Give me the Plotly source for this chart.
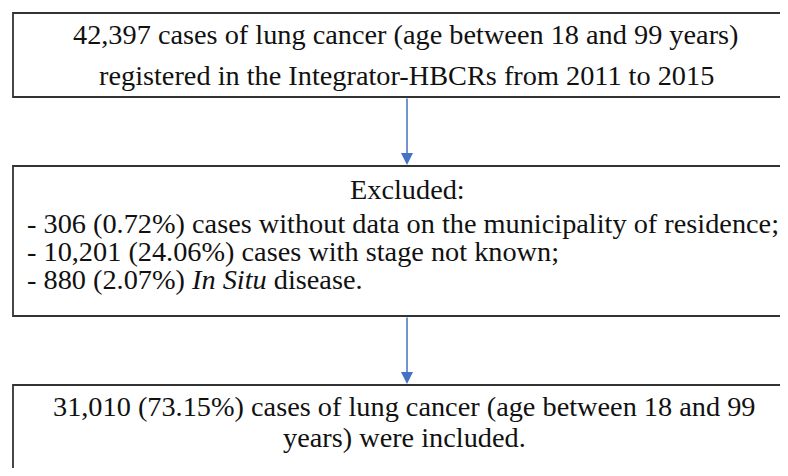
import plotly.graph_objects as go

# box contents (top, middle, bottom)
top_lines = ["42,397 cases of lung cancer (age between 18 and 99 years)",
             "registered in the Integrator-HBCRs from 2011 to 2015"]
excl_title = "Excluded:"
excl_lines = ["- 306 (0.72%) cases without data on the municipality of residence;",
              "- 10,201 (24.06%) cases with stage not known;",
              "- 880 (2.07%) <i>In Situ</i> disease."]
bottom_lines = ["31,010 (73.15%) cases of lung cancer (age between 18 and 99",
                "years) were included."]

W, H = 788, 476
OFF = 8  # page body margin
FIG_H = H - 2 * OFF  # keeps the page from scrolling vertically
SIZE = 28.3
BORDER = dict(color="#333333", width=1.8)
ARROW = "#4472C4"
CX = 407


def font():
    return dict(family="serif", size=SIZE, color="#111111")


fig = go.Figure()

# boxes run off the right edge (and the last one off the bottom), so draw open outlines
R = W + 60
fig.add_shape(type="path", path=f"M {R},13 L 13,13 L 13,97 L {R},97", line=BORDER)
fig.add_shape(type="path", path=f"M {R},166 L 13,166 L 13,316 L {R},316", line=BORDER)
fig.add_shape(type="path", path=f"M {R},385 L 13,385 L 13,{H + 40}", line=BORDER)

# top box text
for y, t in zip([34.5, 75.5], top_lines):
    fig.add_annotation(x=CX - 1, y=y, text=t, showarrow=False,
                       xanchor="center", yanchor="middle", font=font())

# excluded box text
fig.add_annotation(x=CX, y=189.5, text=excl_title, showarrow=False,
                   xanchor="center", yanchor="middle", font=font())
for y, t in zip([223.5, 251.5, 279.5], excl_lines):
    fig.add_annotation(x=25, y=y, text=t, showarrow=False,
                       xanchor="left", yanchor="middle", font=font())

# bottom box text
for y, t in zip([406.5, 437.5], bottom_lines):
    fig.add_annotation(x=CX - 3, y=y, text=t, showarrow=False,
                       xanchor="center", yanchor="middle", font=font())

# connecting arrows
for y_from, y_to in [(97, 166), (316, 385)]:
    fig.add_annotation(x=CX, y=y_to, ax=CX, ay=y_from, xref="x", yref="y",
                       axref="x", ayref="y", text="", showarrow=True,
                       arrowhead=2, arrowsize=1.6, arrowwidth=1.5,
                       arrowcolor=ARROW, standoff=1)

fig.update_xaxes(range=[OFF, W + OFF], visible=False)
fig.update_yaxes(range=[FIG_H + OFF, OFF], visible=False)
fig.update_layout(width=W, height=FIG_H, margin=dict(l=0, r=0, t=0, b=0),
                  paper_bgcolor="white", plot_bgcolor="white", showlegend=False)

fig.write_html("out.html")
